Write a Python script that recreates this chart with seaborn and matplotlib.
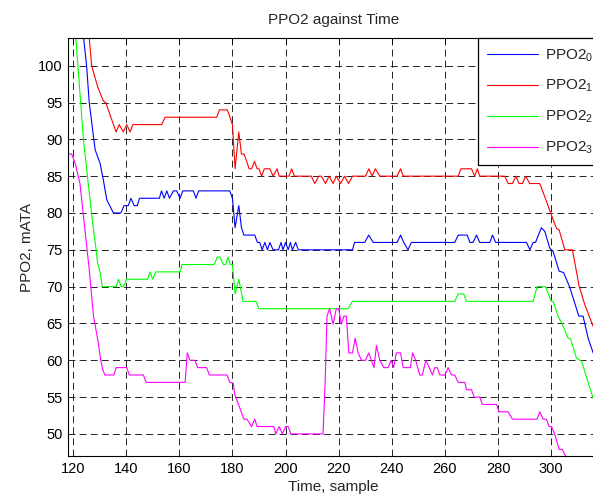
import pandas as pd
import matplotlib
matplotlib.use("Agg")
import matplotlib.pyplot as plt
import seaborn as sns

# data (polyline vertices per series)
ppo2_0_x = [123.6, 125.1, 126.1, 128.3, 130.2, 131.4, 132.7, 135.2, 138.0, 139.2,
            140.8, 141.8, 143.0, 144.2, 145.0, 152.5, 153.3, 154.3, 155.3, 156.3,
            157.8, 159.0, 160.3, 161.3, 165.3, 166.3, 167.3, 179.0, 180.0, 181.0,
            182.4, 183.4, 184.3, 188.4, 189.4, 190.3, 191.2, 192.2, 193.2, 194.1,
            195.3, 197.3, 198.3, 199.0, 200.0, 201.0, 201.8, 202.6, 203.8, 204.8,
            225.2, 226.0, 229.8, 231.3, 233.0, 242.0, 243.3, 244.5, 246.1, 247.4,
            263.7, 265.0, 268.4, 269.4, 270.6, 271.9, 273.1, 276.9, 277.9, 279.1,
            290.7, 292.0, 293.2, 294.1, 296.3, 297.6, 299.5, 300.7, 303.0, 304.7,
            307.0, 310.4, 312.0, 313.9, 316.0]
ppo2_0_y = [105, 100, 95, 88.6, 86.7, 84.5, 81.8, 80, 80, 81,
            81, 82, 81, 81, 82, 82, 83, 82, 83, 82,
            83, 83, 82, 83, 83, 82, 83, 83, 82, 78,
            81, 78, 77, 77, 76, 76, 75, 76, 75, 76,
            75, 75, 76, 75, 76, 75, 76, 75, 76, 75,
            75, 76, 76, 77, 76, 76, 77, 76, 75, 76,
            76, 77, 77, 76, 76, 77, 76, 76, 77, 76,
            76, 75, 76, 76, 78, 77.5, 75.2, 74.8, 72.1, 71.9,
            69.9, 66, 66, 63, 60.8]

ppo2_1_x = [125.8, 127.0, 129.3, 131.4, 132.3, 136.2, 137.4, 138.9, 140.2, 141.5,
            142.5, 153.4, 154.6, 174.1, 175.1, 178.1, 180.0, 181.0, 182.4, 183.4,
            184.4, 186.3, 187.2, 188.3, 189.3, 190.0, 191.0, 192.0, 194.1, 195.3,
            196.8, 197.6, 201.3, 202.3, 203.3, 209.7, 211.0, 212.5, 213.5, 215.0,
            216.4, 217.9, 219.1, 220.7, 222.2, 223.7, 225.2, 230.1, 231.4, 232.6,
            233.8, 235.5, 242.0, 243.3, 244.3, 265.0, 266.0, 270.0, 271.2, 272.2,
            273.1, 282.5, 283.8, 285.4, 286.7, 287.9, 289.2, 290.4, 291.9, 295.7,
            298.0, 300.1, 302.0, 303.0, 305.1, 308.0, 310.5, 312.6, 316.0]
ppo2_1_y = [105, 100, 97.1, 95.2, 95, 91, 92, 91, 92, 91,
            92, 92, 93, 93, 94, 94, 92, 86, 91, 88,
            88, 86, 86, 87, 86, 86, 85, 86, 86, 85,
            86, 85, 85, 86, 85, 85, 84, 85, 85, 84,
            85, 84, 85, 84, 85, 84, 85, 85, 86, 85,
            86, 85, 85, 86, 85, 85, 86, 86, 85, 86,
            85, 85, 84, 84, 85, 84, 84, 85, 84, 84,
            81.8, 79.7, 77.9, 77.7, 75, 75, 70.1, 67.6, 64.4]

ppo2_2_x = [120.8, 123.9, 126.0, 127.7, 128.7, 129.2, 130.2, 131.0, 136.2, 137.1,
            138.1, 138.9, 140.2, 148.1, 149.0, 150.0, 151.1, 160.3, 161.0, 173.1,
            174.3, 175.3, 176.6, 177.5, 178.3, 179.2, 180.0, 181.0, 182.4, 184.0,
            188.8, 190.0, 223.5, 225.2, 263.7, 265.0, 267.1, 268.1, 293.2, 294.7,
            297.8, 300.1, 300.7, 302.6, 303.9, 306.4, 307.3, 309.5, 311.4, 316.0]
ppo2_2_y = [105, 90, 83.1, 77.7, 75, 73.3, 71.9, 70, 70, 71,
            70, 70, 71, 71, 72, 71, 72, 72, 73, 73,
            74, 74, 73, 73, 74, 73, 73, 69, 71, 68,
            68, 67, 67, 68, 68, 69, 69, 68, 68, 70,
            70, 68, 68, 66, 65.1, 63, 62.9, 60.3, 59.9, 54.6]

ppo2_3_x = [118.0, 119.5, 121.0, 122.6, 126.1, 127.7, 129.5, 130.4, 131.2, 132.0,
            135.4, 136.2, 140.2, 141.2, 146.5, 147.5, 162.2, 163.0, 164.0, 165.9,
            166.9, 170.3, 171.3, 178.0, 179.0, 180.3, 180.9, 182.1, 184.3, 185.5,
            187.2, 188.4, 189.3, 195.6, 196.3, 197.6, 198.8, 200.0, 201.0, 202.0,
            214.1, 214.9, 215.6, 216.6, 217.9, 219.1, 220.0, 221.0, 222.0, 222.9,
            223.8, 225.2, 226.2, 227.3, 228.6, 230.1, 231.3, 233.3, 234.2, 235.5,
            237.0, 238.6, 239.8, 240.7, 241.7, 243.3, 244.3, 247.0, 247.8, 249.0,
            250.5, 251.5, 252.8, 254.1, 255.3, 256.2, 257.1, 258.1, 260.0, 261.2,
            262.5, 263.7, 265.0, 267.5, 268.1, 270.0, 271.0, 273.1, 274.1, 279.4,
            280.4, 283.8, 285.4, 294.7, 295.7, 297.0, 298.2, 299.2, 300.1, 301.3,
            303.0, 304.2, 305.5, 307.5]
ppo2_3_y = [88, 88, 86.5, 84, 72.3, 66, 62.4, 60.1, 58.7, 58,
            58, 59, 59, 58, 58, 57, 57, 61, 60, 60,
            59, 59, 58, 58, 57, 56.9, 55.3, 54.2, 52, 52,
            51, 52, 51, 51, 50, 51, 50, 51, 51, 50,
            50, 56.9, 66, 67, 64.9, 67, 67, 64.9, 66, 66,
            61, 61, 63, 61, 60, 60, 61, 59, 62, 60,
            59, 59, 60, 59, 61, 61, 59, 59, 61, 60,
            58, 58, 60, 59, 58, 59, 59, 58, 58, 59,
            58, 58, 57, 57, 56, 56, 55, 55, 54, 54,
            53, 53, 52, 52, 53, 52, 52, 51, 51, 50,
            47.9, 47.9, 46.9, 46.9]

series_names = ["PPO2$_0$", "PPO2$_1$", "PPO2$_2$", "PPO2$_3$"]
series_colors = ["#0000ff", "#ff0000", "#00ff00", "#ff00ff"]
x_ticks = [120, 140, 160, 180, 200, 220, 240, 260, 280, 300]
y_ticks = [50, 55, 60, 65, 70, 75, 80, 85, 90, 95, 100]

frames = []
for name, xs, ys in zip(series_names,
                        [ppo2_0_x, ppo2_1_x, ppo2_2_x, ppo2_3_x],
                        [ppo2_0_y, ppo2_1_y, ppo2_2_y, ppo2_3_y]):
    frames.append(pd.DataFrame({"x": xs, "y": ys, "series": name}))
df = pd.concat(frames, ignore_index=True)

sns.set_style("white")
plt.rcParams["font.family"] = ["Liberation Sans", "DejaVu Sans"]
plt.rcParams["mathtext.default"] = "regular"
plt.rcParams["lines.scale_dashes"] = False

fig = plt.figure(figsize=(5.93, 4.99), dpi=100)
ax = fig.add_axes([68 / 593, 43 / 499, 531 / 593, 418 / 499])

sns.lineplot(data=df, x="x", y="y", hue="series", hue_order=series_names,
             palette=dict(zip(series_names, series_colors)),
             sort=False, estimator=None, linewidth=0.8, ax=ax)

ax.set_xlim(118.1, 318)
ax.set_ylim(47.0, 103.76)
ax.set_xticks(x_ticks)
ax.set_yticks(y_ticks)
ax.grid(True, color="black", linewidth=0.6, dashes=(5, 3))
ax.tick_params(direction="in", length=4, width=0.6, top=True, right=True,
               labelsize=10.5, colors="black", pad=4)
for s in ax.spines.values():
    s.set_color("black")
    s.set_linewidth(0.8)

ax.set_title("PPO2 against Time", fontsize=11, pad=10)
ax.set_xlabel("Time, sample", fontsize=11, labelpad=3)
ax.set_ylabel("PPO2, mATA", fontsize=11, labelpad=3)

handles, labels = ax.get_legend_handles_labels()
leg = ax.legend(handles, labels, loc="upper left",
                bbox_to_anchor=(478 / 593, 1 - 38 / 499),
                bbox_transform=fig.transFigure, fontsize=11,
                frameon=True, fancybox=False, borderaxespad=0,
                handlelength=3.3, handletextpad=0.5, labelspacing=0.95,
                borderpad=0.6)
leg.get_frame().set_edgecolor("black")
leg.get_frame().set_linewidth(0.9)
leg.get_frame().set_alpha(1)

fig.savefig("out.png", dpi=100)
